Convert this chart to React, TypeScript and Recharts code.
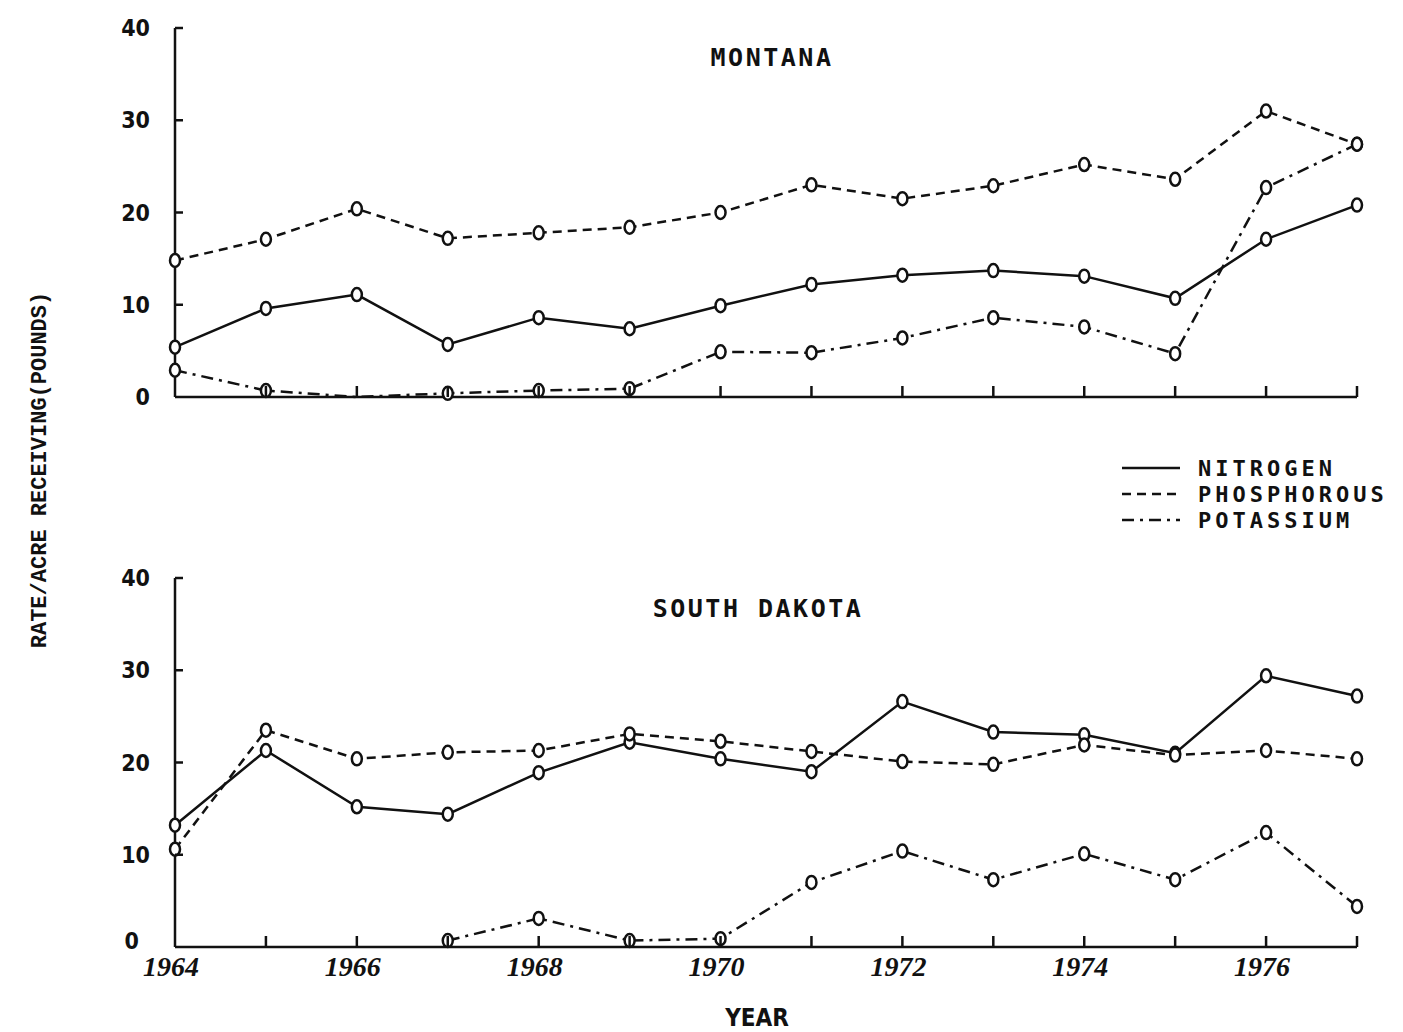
import { LineChart, Line, XAxis, YAxis } from "recharts";

// years on the x axis (one tick per year, labels on even years only)
const years = [1964, 1965, 1966, 1967, 1968, 1969, 1970, 1971, 1972, 1973, 1974, 1975, 1976, 1977];
const yTicks = [0, 10, 20, 30, 40];

// Montana, lb/acre
const mtNitrogen = [5.4, 9.6, 11.1, 5.7, 8.6, 7.4, 9.9, 12.2, 13.2, 13.7, 13.1, 10.7, 17.1, 20.8];
const mtPhosphorous = [14.8, 17.1, 20.4, 17.2, 17.8, 18.4, 20.0, 23.0, 21.5, 22.9, 25.2, 23.6, 31.0, 27.4];
const mtPotassium = [2.9, 0.7, 0, 0.4, 0.7, 0.9, 4.9, 4.8, 6.4, 8.6, 7.6, 4.7, 22.7, 27.4];

// South Dakota, lb/acre
const sdNitrogen = [13.2, 21.3, 15.2, 14.4, 18.9, 22.2, 20.4, 19.0, 26.6, 23.3, 23.0, 21.0, 29.4, 27.2];
const sdPhosphorous = [10.6, 23.5, 20.4, 21.1, 21.3, 23.1, 22.3, 21.2, 20.1, 19.8, 21.9, 20.8, 21.3, 20.4];
const sdPotassium = [null, null, null, 0.7, 3.1, 0.7, 0.9, 7.0, 10.4, 7.3, 10.1, 7.3, 12.4, 4.4];

const series = [
  { key: "n", name: "NITROGEN", dash: undefined },
  { key: "p", name: "PHOSPHOROUS", dash: "9 6" },
  { key: "k", name: "POTASSIUM", dash: "12 6 3 6" },
];

const INK = "#111";
const MONO = "'DejaVu Sans Mono', monospace";
const COND = "'DejaVu Sans Condensed', 'DejaVu Sans', sans-serif";

function build(n: number[], p: number[], k: (number | null)[]) {
  return years.map((year, i) => ({ year, n: n[i], p: p[i], k: k[i] }));
}

// open, slightly tall circle markers like the typewritten original
const OpenDot = (props: any) => {
  const { cx, cy, value, index } = props;
  if (cy == null || value == null || value === 0) return <g key={index} />;
  return (
    <ellipse
      key={index}
      cx={cx}
      cy={cy}
      rx={5}
      ry={6.5}
      fill="#fff"
      stroke={INK}
      strokeWidth={2.5}
    />
  );
};

function makeYTick(lower: boolean) {
  return (props: any) => {
    const { x, y, payload } = props;
    const zero = payload.value === 0;
    // the bottom panel's zero sits a little left and up, clear of 1964
    const shiftX = lower && zero ? -36 : -25;
    const shiftY = lower && zero ? 2 : 8;
    return (
      <g>
        {!zero && (
          <line x1={x} y1={y} x2={x + 8} y2={y} stroke={INK} strokeWidth={2.5} />
        )}
        <text
          x={x + shiftX}
          y={y}
          dy={shiftY}
          textAnchor="end"
          fontFamily={COND}
          fontWeight="bold"
          fontSize={23}
          fill={INK}
        >
          {payload.value}
        </text>
      </g>
    );
  };
}

function makeXTick(showLabels: boolean) {
  return (props: any) => {
    const { x, y, payload } = props;
    const v = payload.value as number;
    return (
      <g>
        {v !== 1964 && (
          <line x1={x} y1={y} x2={x} y2={y - 11} stroke={INK} strokeWidth={2.5} />
        )}
        {showLabels && v % 2 === 0 && (
          <text
            x={x - 4}
            y={y}
            dy={29}
            textAnchor="middle"
            fontFamily="'Liberation Serif', serif"
            fontStyle="italic"
            fontWeight="bold"
            fontSize={28}
            fill={INK}
          >
            {v}
          </text>
        )}
      </g>
    );
  };
}

function Panel({
  data,
  height,
  lower,
}: {
  data: ReturnType<typeof build>;
  height: number;
  lower: boolean;
}) {
  return (
    <LineChart
      width={1403}
      height={height}
      data={data}
      margin={{ top: 28, right: 46, bottom: 0, left: 0 }}
    >
      <XAxis
        dataKey="year"
        type="number"
        domain={[1964, 1977]}
        ticks={years}
        interval={0}
        height={height - 397}
        tickSize={0}
        tickMargin={0}
        tickLine={false}
        axisLine={{ stroke: INK, strokeWidth: 2.5 }}
        tick={makeXTick(lower)}
      />
      <YAxis
        type="number"
        domain={[0, 40]}
        ticks={yTicks}
        width={175}
        tickSize={0}
        tickMargin={0}
        tickLine={false}
        axisLine={{ stroke: INK, strokeWidth: 2.5 }}
        tick={makeYTick(lower)}
      />
      {series.map((s) => (
        <Line
          key={s.key}
          dataKey={s.key}
          type="linear"
          stroke={INK}
          strokeWidth={2.5}
          strokeDasharray={s.dash}
          dot={<OpenDot />}
          activeDot={false}
          isAnimationActive={false}
        />
      ))}
    </LineChart>
  );
}

export default function App() {
  const mt = build(mtNitrogen, mtPhosphorous, mtPotassium);
  const sd = build(sdNitrogen, sdPhosphorous, sdPotassium);
  const titleStyle: React.CSSProperties = {
    position: "absolute",
    fontFamily: MONO,
    fontWeight: "bold",
    fontSize: 25,
    letterSpacing: 2.5,
    color: INK,
    transform: "translate(-50%, -50%)",
    whiteSpace: "nowrap",
  };
  return (
    <div
      style={{
        position: "absolute",
        left: 0,
        top: 0,
        width: 1403,
        height: 1032,
        background: "#fff",
        overflow: "hidden",
      }}
    >
      <div style={{ position: "absolute", left: 0, top: 0 }}>
        <Panel data={mt} height={440} lower={false} />
      </div>
      <div style={{ position: "absolute", left: 0, top: 550 }}>
        <Panel data={sd} height={482} lower={true} />
      </div>

      <div style={{ ...titleStyle, left: 772, top: 57 }}>MONTANA</div>
      <div style={{ ...titleStyle, left: 758, top: 608 }}>SOUTH DAKOTA</div>

      <svg
        width={300}
        height={90}
        style={{ position: "absolute", left: 1110, top: 453 }}
      >
        {series.map((s, i) => (
          <g key={s.key}>
            <line
              x1={12}
              x2={70}
              y1={15 + i * 26}
              y2={15 + i * 26}
              stroke={INK}
              strokeWidth={2.5}
              strokeDasharray={s.dash}
            />
            <text
              x={88}
              y={15 + i * 26}
              dy={8}
              fontFamily={MONO}
              fontWeight="bold"
              fontSize={22}
              letterSpacing={4}
              fill={INK}
            >
              {s.name}
            </text>
          </g>
        ))}
      </svg>

      <div
        style={{
          position: "absolute",
          left: 40,
          top: 470,
          transform: "translate(-50%, -50%) rotate(-90deg)",
          fontFamily: "'Liberation Mono', monospace",
          fontWeight: "bold",
          fontSize: 22,
          color: INK,
          whiteSpace: "nowrap",
        }}
      >
        RATE/ACRE RECEIVING(POUNDS)
      </div>
      <div
        style={{
          position: "absolute",
          left: 757,
          top: 1018,
          transform: "translate(-50%, -50%)",
          fontFamily: COND,
          fontWeight: "bold",
          fontSize: 24,
          color: INK,
        }}
      >
        YEAR
      </div>
    </div>
  );
}
